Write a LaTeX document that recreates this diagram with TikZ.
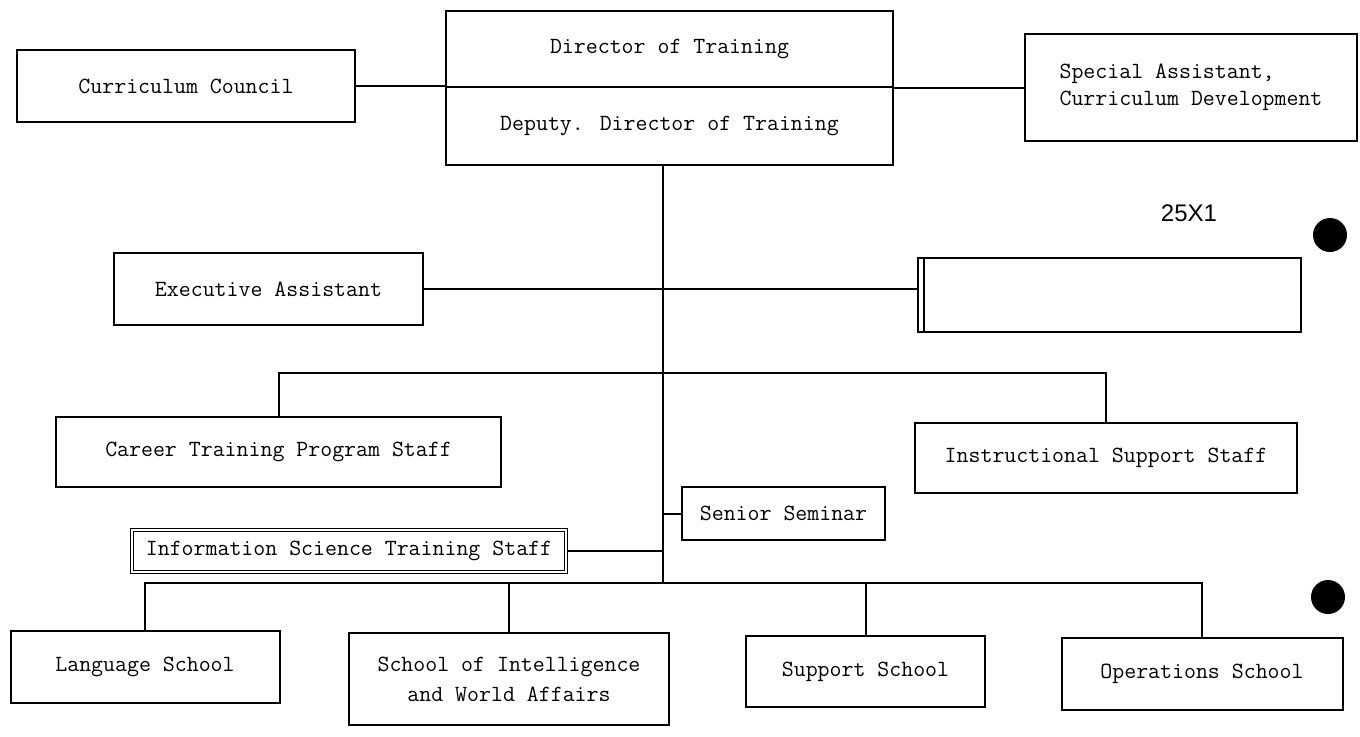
\documentclass[tikz,border=0pt]{standalone}
\usepackage{fontspec}
\newfontfamily\stampfont{Liberation Sans}
\def\pxu{0.5pt}

\begin{document}
\begin{tikzpicture}[x=0.5pt, y=-0.5pt,
	unit/.style={draw, rectangle, line width=1pt, inner sep=0pt,
		font=\fontsize{11.6}{13.5}\selectfont\ttfamily},
	link/.style={line width=1pt}]
	\useasboundingbox (0,0) rectangle (1360,736);
	% top row
	\node[unit, minimum width=447*\pxu, minimum height=76*\pxu] (dir) at (669.5,49) {Director of Training};
	\node[unit, minimum width=447*\pxu, minimum height=78*\pxu] (dep) at (669.5,126) {Deputy. Director of Training};
	\node[unit, minimum width=338*\pxu, minimum height=72*\pxu] (council) at (186,86) {Curriculum Council};
	\node[unit, minimum width=332*\pxu, minimum height=107*\pxu, align=left] (special) at (1191,87.5) {Special Assistant,\\Curriculum Development};
	\node[font=\stampfont\fontsize{12}{14}\selectfont] (stamp) at (1189,213) {25X1};
	\draw[link] (council.east) -- (council.east -| dep.west);
	\draw[link] (special.west) -- (special.west -| dep.east);
%%%%
	\coordinate (busA) at (663,373);
	\coordinate (busB) at (663,583);
	\node[unit, minimum width=309*\pxu, minimum height=72*\pxu] (exec) at (268.5,289) {Executive Assistant};
	\node[unit, minimum width=383*\pxu, minimum height=74*\pxu] (blank) at (1109.5,295) {};
	\draw[link] ([xshift=3.5pt]blank.north west) -- ([xshift=3.5pt]blank.south west);
	\node[unit, minimum width=445*\pxu, minimum height=70*\pxu] (career) at (278.5,452) {Career Training Program Staff};
	\node[unit, minimum width=382*\pxu, minimum height=70*\pxu] (instr) at (1106,458) {Instructional Support Staff};
	\node[unit, minimum width=203*\pxu, minimum height=53*\pxu] (senior) at (783.5,513.5) {Senior Seminar};
	\node[unit, line width=0.6pt, double, double distance=1.2pt, minimum width=434*\pxu, minimum height=42*\pxu] (infosci) at (349,551) {Information Science Training Staff};
	\draw[link] (dep.south -| busA) -- (busB);
	\draw[link] (exec.east) -- (exec.east -| blank.west);
	\draw[link] (career.north) |- (busA) -| (instr.north);
	\draw[link] (senior.west) -- (senior.west -| busA);
	\draw[link] (infosci.east) -- (infosci.east -| busA);
%%%%
	\node[unit, minimum width=269*\pxu, minimum height=72*\pxu] (language) at (145,667) {Language School};
	\node[unit, minimum width=320*\pxu, minimum height=92*\pxu, align=center,
		font=\fontsize{11.6}{15}\selectfont\ttfamily] (sifa) at (509,679) {School of Intelligence\\and World Affairs};
	\node[unit, minimum width=239*\pxu, minimum height=71*\pxu] (support) at (865.5,671.5) {Support School};
	\node[unit, minimum width=281*\pxu, minimum height=72*\pxu] (ops) at (1202,674) {Operations School};
	\draw[link] (language.north) |- (busB) -| (ops.north);
	\draw[link] (sifa.north) -- (sifa.north |- busB);
	\draw[link] (support.north) -- (support.north |- busB);
%%%%
	\fill (1330,235) circle[radius=17];
	\fill (1328,597) circle[radius=17];
\end{tikzpicture}
\end{document}
